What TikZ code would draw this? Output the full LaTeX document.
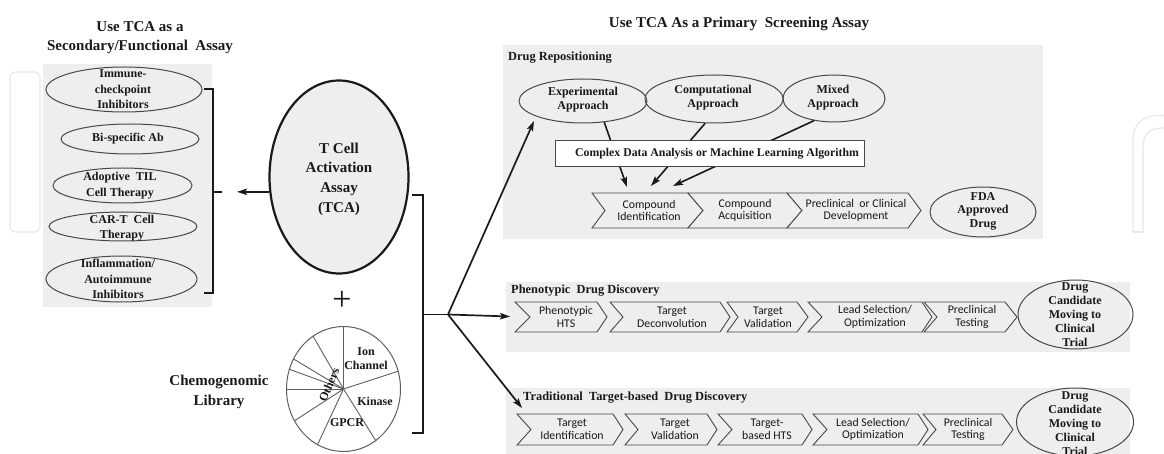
\documentclass[tikz,border=0pt]{standalone}
\usepackage{fontspec}
\setmainfont{Liberation Serif}
\newfontfamily\chevfont{Carlito}
\usetikzlibrary{arrows.meta,shapes.geometric}

\definecolor{panelgray}{RGB}{238,238,238}
\definecolor{edgegray}{RGB}{72,72,72}
\definecolor{piegray}{RGB}{95,95,95}
\definecolor{markgray}{RGB}{232,232,232}
\definecolor{ink}{RGB}{25,25,25}

% chevron process step: name, left x, right x, top y, bottom y, notch depth, point depth, text x, text
\newcommand{\chevstep}[9]{%
  \draw[chev] (#2,#4) -- (#3,#4) -- ({#3+#7},{(#4+#5)/2}) -- (#3,#5) -- (#2,#5)
    -- ({#2+#6},{(#4+#5)/2}) -- cycle;
  \node[chevtxt] (#1) at (#8,{(#4+#5)/2}) {#9};
}

\tikzset{
  ttl/.style={font=\fontsize{15}{19}\selectfont\bfseries, align=center, inner sep=0, text=ink},
  sect/.style={font=\fontsize{12.4}{15}\selectfont\bfseries, anchor=west, inner sep=0, text=ink},
  lblL/.style={font=\fontsize{12}{15.5}\selectfont\bfseries, align=center, inner sep=0, text=ink},
  lbl/.style={font=\fontsize{12}{14}\selectfont\bfseries, align=center, inner sep=0, text=ink},
  pielbl/.style={font=\fontsize{12}{14}\selectfont\bfseries, align=center, inner sep=0, text=ink},
  chevtxt/.style={font=\chevfont\fontsize{11.8}{12.7}\selectfont, align=center, inner sep=0, text=ink},
  chev/.style={draw=edgegray, fill=panelgray, line width=0.9pt, line join=miter},
  oval/.style={ellipse, draw=edgegray, line width=1pt, inner sep=0},
  brk/.style={line width=1.7pt, draw=ink},
  arr/.style={line width=1.7pt, draw=ink, -{Stealth[length=10pt,width=6.5pt,inset=2pt]}},
  markline/.style={draw=markgray, line width=1.2pt},
}

\begin{document}
\begin{tikzpicture}[x=1pt,y=-1pt]
\useasboundingbox (0,0) rectangle (1164,454);

% background panels
\fill[panelgray] (43,64) rectangle (212,307);
\fill[panelgray] (503,45) rectangle (1043,239);
\fill[panelgray] (506,282) rectangle (1130,352);
\fill[panelgray] (506,388) rectangle (1130,454);

% faint logo marks
\draw[markline, rounded corners=5pt] (10,72) rectangle (40,232);
\draw[markline] (1133,232) -- (1133,140) .. controls (1133,122) and (1146,113) .. (1164,116);
\draw[markline] (1143,232) -- (1143,146) .. controls (1143,133) and (1152,127) .. (1164,128);
\draw[markline] (1133,232) -- (1143,232);

% titles
\node[ttl] (ttlL) at (140,37.5) {Use TCA as a\\Secondary/Functional~ Assay};
\node[ttl] (ttlR) at (739,24) {Use TCA As a Primary~ Screening Assay};

% secondary / functional assays
\node[oval, minimum width=156pt, minimum height=45pt] (imm) at (124,89.5) {};
\node[lblL] (immT) at (123,89.5) {Immune-\\checkpoint\\Inhibitors};
\node[oval, minimum width=138pt, minimum height=30pt] (bis) at (130,139) {};
\node[lblL] (bisT) at (128,139) {Bi-specific Ab};
\node[oval, minimum width=139pt, minimum height=35pt] (adt) at (122.5,185.5) {};
\node[lblL] (adtT) at (120,185.5) {Adoptive~ TIL\\Cell Therapy};
\node[oval, minimum width=148pt, minimum height=29pt] (car) at (123,226.5) {};
\node[lblL] (carT) at (122,228) {CAR-T~ Cell\\Therapy};
\node[oval, minimum width=151pt, minimum height=46pt] (inf) at (121.5,279) {};
\node[lblL] (infT) at (118,279) {Inflammation/\\Autoimmune\\Inhibitors};

% left bracket
\draw[brk] (204,89) -- (213,89) -- (213,293) -- (204,293);
\draw[brk] (213,192) -- (222,192);

% T cell activation assay
\node[ellipse, draw=ink, line width=2.2pt, fill=panelgray, minimum width=139pt,
      minimum height=193pt, inner sep=0] (tca) at (339,177) {};
\node[font=\fontsize{15}{19.7}\selectfont\bfseries, align=center, inner sep=0, text=ink]
  (tcaT) at (339,179) {T Cell\\Activation\\Assay\\(TCA)};
\coordinate (lbIn) at (237,192);
\draw[arr] (tca.192.5) -- (lbIn |- tca.192.5);

% plus sign
\node[font=\fontsize{34}{34}\selectfont, inner sep=0, text=ink] (plus) at (342,301) {+};

% chemogenomic library
\node[font=\fontsize{15}{20}\selectfont\bfseries, align=center, inner sep=0, text=ink]
  (chemo) at (219,392) {Chemogenomic\\Library};
\node[ellipse, draw=piegray, line width=1pt, fill=white, minimum width=114pt,
      minimum height=125pt, inner sep=0] (pie) at (343.5,389) {};
\foreach \a in {90,18.3,-58.3,245,213.7,180,160.8,149.3,120.9}
  \draw[piegray, line width=0.9pt] (pie.center) -- (pie.\a);
\node[pielbl] (ion) at (366,359) {Ion\\Channel};
\node[pielbl] (kin) at (375,401) {Kinase};
\node[pielbl] (gpcr) at (347,423) {GPCR};
\node[pielbl, rotate=67] (oth) at (329,385) {Others};

% right bracket and split
\draw[brk] (412,195) -- (423,195) -- (423,433) -- (412,433);
\coordinate (split) at (448,314.5);
\draw[brk] (423,314.5) -- (split);
\coordinate (expIn) at (534,121);
\coordinate (phIn) at (510,316.5);
\coordinate (trIn) at (522,408);
\draw[arr] (split) -- (expIn);
\draw[arr] (split) -- (phIn);
\draw[arr] (split) -- (trIn);

% drug repositioning
\node[sect] (drT) at (508,58) {Drug Repositioning};
\node[oval, minimum width=128pt, minimum height=44pt] (expA) at (583,101) {};
\node[oval, minimum width=138pt, minimum height=48pt] (compA) at (714,99) {};
\node[oval, minimum width=102pt, minimum height=47pt] (mixA) at (834,98.5) {};
\node[lbl] (expT) at (583,100) {Experimental\\Approach};
\node[lbl] (compT) at (713,98) {Computational\\Approach};
\node[lbl] (mixT) at (833,98) {Mixed\\Approach};

\coordinate (inA) at (627,187);
\coordinate (inB) at (651,186);
\coordinate (inC) at (673,186);
\draw[arr, line width=1.6pt] (expA.-45) -- (inA);
\draw[arr, line width=1.6pt] (compA.-110) -- (inB);
\draw[arr, line width=1.6pt] (mixA.-132) -- (inC);

\node[draw=edgegray, fill=white, line width=1pt, minimum width=309pt, minimum height=26pt,
      inner sep=0] (cda) at (709.5,154) {};
\node[font=\fontsize{11.8}{14}\selectfont\bfseries, inner sep=0, text=ink] (cdaT) at (717,154)
  {Complex Data Analysis or Machine Learning Algorithm};

\chevstep{cid}{592}{688}{193}{228}{13}{15}{649}{Compound\\Identification}
\chevstep{cacq}{688}{787}{193}{228}{15}{15}{745}{Compound\\Acquisition}
\chevstep{cdev}{787}{908}{193}{228}{15}{13}{856}{Preclinical~ or Clinical\\Development}
\node[oval, minimum width=106pt, minimum height=50pt] (fda) at (983,212) {};
\node[lbl, font=\fontsize{12}{13.5}\selectfont\bfseries] (fdaT) at (983,211) {FDA\\Approved\\Drug};

% phenotypic drug discovery
\node[sect] (phT) at (511,291) {Phenotypic~ Drug Discovery};
\chevstep{p1}{515}{597}{302}{332}{15}{10}{566}{Phenotypic\\HTS}
\chevstep{p2}{610}{720}{302}{332}{13}{10}{672}{Target\\Deconvolution}
\chevstep{p3}{727}{797}{302}{332}{11}{11}{768}{Target\\Validation}
\chevstep{p4}{808}{922}{302}{332}{14}{10}{875}{Lead Selection/\\Optimization}
\chevstep{p5}{924}{1005}{302}{332}{13}{12}{972}{Preclinical\\Testing}
\node[oval, minimum width=115pt, minimum height=69pt] (dc1) at (1075.5,314.5) {};
\node[lbl] (dc1T) at (1075,315) {Drug\\Candidate\\Moving to\\Clinical\\Trial};

% traditional target-based drug discovery
\node[sect] (trT) at (523,398) {Traditional~ Target-based~ Drug Discovery};
\chevstep{t1}{517}{613}{414}{445}{14}{10}{572}{Target\\Identification}
\chevstep{t2}{625}{707}{414}{445}{13}{10}{675}{Target\\Validation}
\chevstep{t3}{718}{802}{414}{445}{14}{10}{767}{Target-\\based HTS}
\chevstep{t4}{813}{918}{414}{445}{14}{10}{873}{Lead Selection/\\Optimization}
\chevstep{t5}{923}{1002}{414}{445}{13}{11}{968}{Preclinical\\Testing}
\node[oval, minimum width=117pt, minimum height=68pt] (dc2) at (1075,422) {};
\node[lbl] (dc2T) at (1075,424) {Drug\\Candidate\\Moving to\\Clinical\\Trial};

\end{tikzpicture}
\end{document}
